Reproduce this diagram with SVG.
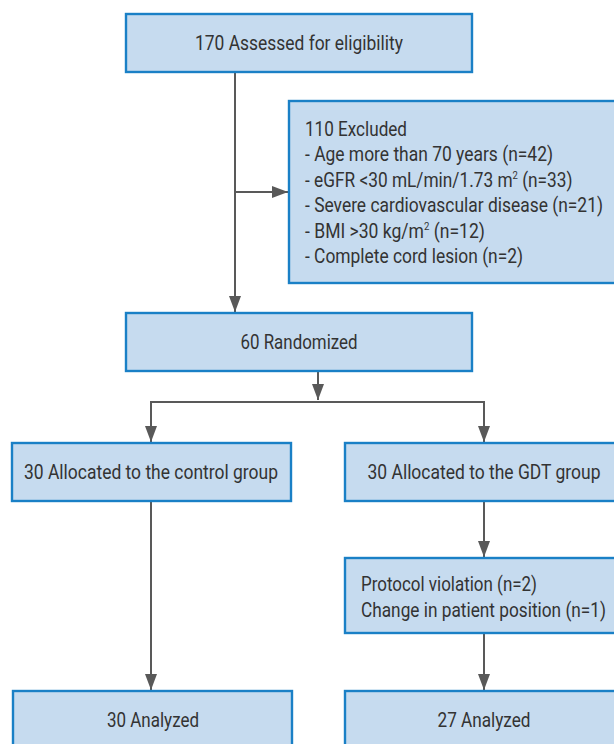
<svg xmlns="http://www.w3.org/2000/svg" width="614" height="744" viewBox="0 0 614 744">
<defs>
<style>
.box{fill:#c6dbef;stroke:#1a80c6;stroke-width:2.4}
.t{font-family:Roboto,"Liberation Sans",sans-serif;font-size:20px;fill:#333333}
.c{text-anchor:middle}
.ln{fill:none;stroke:#595959;stroke-width:2}
</style>
<marker id="ah" markerUnits="userSpaceOnUse" markerWidth="16" markerHeight="12" refX="16" refY="6" orient="auto">
<path d="M0,0 L16,6 L0,12 Z" fill="#595959"/>
</marker>
</defs>
<rect width="614" height="744" fill="#ffffff"/>
<g id="connectors">
<path class="ln" d="M235,72 V312" marker-end="url(#ah)"/>
<path class="ln" d="M235,192 H288" marker-end="url(#ah)"/>
<path class="ln" d="M318,371 V400" marker-end="url(#ah)"/>
<path class="ln" d="M151,442 V402 H484 V442" marker-end="url(#ah)"/>
<path class="ln" d="M151,402 V442" marker-end="url(#ah)"/>
<path class="ln" d="M151,501 V690" marker-end="url(#ah)"/>
<path class="ln" d="M484,501 V557" marker-end="url(#ah)"/>
<path class="ln" d="M484,633 V690" marker-end="url(#ah)"/>
</g>
<g id="assessed">
<rect class="box" x="126" y="14" width="346" height="58"/>
<text class="t c" x="299" y="50" textLength="208" lengthAdjust="spacingAndGlyphs">170 Assessed for eligibility</text>
</g>
<g id="excluded">
<rect class="box" x="289" y="101" width="330" height="182"/>
<text class="t" x="305" y="135.5" textLength="102" lengthAdjust="spacingAndGlyphs">110 Excluded</text>
<text class="t" x="305" y="161" textLength="248" lengthAdjust="spacingAndGlyphs">- Age more than 70 years (n=42)</text>
<text class="t" transform="translate(305,186.5) scale(0.864,1)" x="0" y="0">- eGFR &lt;30 mL/min/1.73 m<tspan font-size="11" dy="-8">2</tspan><tspan dy="8"> (n=33)</tspan></text>
<text class="t" x="305" y="212" textLength="298" lengthAdjust="spacingAndGlyphs">- Severe cardiovascular disease (n=21)</text>
<text class="t" transform="translate(305,237.5) scale(0.878,1)" x="0" y="0">- BMI &gt;30 kg/m<tspan font-size="11" dy="-8">2</tspan><tspan dy="8"> (n=12)</tspan></text>
<text class="t" x="305" y="263" textLength="218" lengthAdjust="spacingAndGlyphs">- Complete cord lesion (n=2)</text>
</g>
<g id="randomized">
<rect class="box" x="126" y="313" width="346" height="58"/>
<text class="t c" x="299" y="349" textLength="117" lengthAdjust="spacingAndGlyphs">60 Randomized</text>
</g>
<g id="control">
<rect class="box" x="12" y="443" width="279" height="58"/>
<text class="t c" x="151" y="479" textLength="254" lengthAdjust="spacingAndGlyphs">30 Allocated to the control group</text>
</g>
<g id="gdt">
<rect class="box" x="345" y="443" width="275" height="58"/>
<text class="t c" x="484" y="479" textLength="233" lengthAdjust="spacingAndGlyphs">30 Allocated to the GDT group</text>
</g>
<g id="violation">
<rect class="box" x="345" y="558" width="275" height="75"/>
<text class="t" x="361" y="591" textLength="176" lengthAdjust="spacingAndGlyphs">Protocol violation (n=2)</text>
<text class="t" x="361" y="617" textLength="245" lengthAdjust="spacingAndGlyphs">Change in patient position (n=1)</text>
</g>
<g id="analyzed-control">
<rect class="box" x="13" y="691" width="279" height="60"/>
<text class="t c" x="153" y="727" textLength="92" lengthAdjust="spacingAndGlyphs">30 Analyzed</text>
</g>
<g id="analyzed-gdt">
<rect class="box" x="345" y="691" width="275" height="60"/>
<text class="t c" x="484" y="727" textLength="93" lengthAdjust="spacingAndGlyphs">27 Analyzed</text>
</g>
</svg>
